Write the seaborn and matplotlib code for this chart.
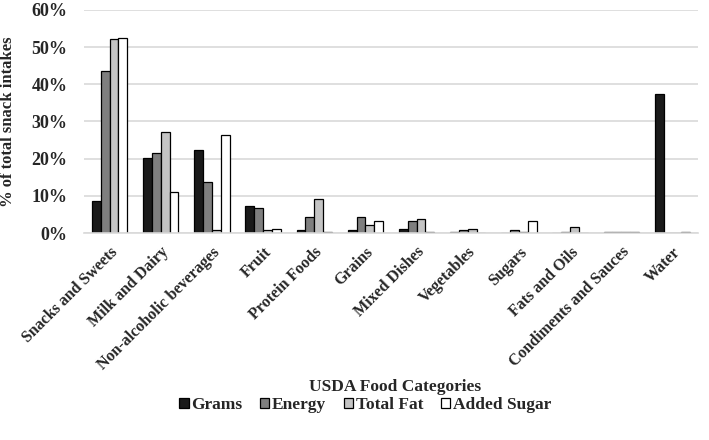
import numpy as np
import pandas as pd
import matplotlib
matplotlib.use('Agg')
import matplotlib.pyplot as plt
import seaborn as sns

categories = ['Snacks and Sweets', 'Milk and Dairy', 'Non-alcoholic beverages', 'Fruit',
              'Protein Foods', 'Grains', 'Mixed Dishes', 'Vegetables', 'Sugars',
              'Fats and Oils', 'Condiments and Sauces', 'Water']
grams = [8.5, 20.2, 22.3, 7.2, 0.8, 0.9, 1.2, 0.4, 0.1, 0.1, 0.2, 37.3]
energy = [43.5, 21.5, 13.6, 6.8, 4.2, 4.3, 3.1, 0.9, 0.7, 0.4, 0.2, 0.0]
total_fat = [52.3, 27.3, 0.8, 0.8, 9.2, 2.1, 3.9, 1.1, 0.2, 1.5, 0.2, 0.0]
added_sugar = [52.5, 11.0, 26.5, 1.2, 0.4, 3.2, 0.4, 0.1, 3.2, 0.1, 0.2, 0.2]
series = ['Grams', 'Energy', 'Total Fat', 'Added Sugar']
colors = ['#1a1a1a', '#7f7f7f', '#c4c4c4', '#ffffff']

df = pd.DataFrame({'Category': categories, 'Grams': grams, 'Energy': energy,
                   'Total Fat': total_fat, 'Added Sugar': added_sugar})
long = df.melt(id_vars='Category', var_name='Measure', value_name='Pct')

sns.set_style('white')
plt.rcParams['font.family'] = ['Liberation Serif', 'DejaVu Serif']
plt.rcParams['font.weight'] = 'bold'

fig = plt.figure(figsize=(7.09, 4.40), dpi=100)
ax = fig.add_axes([84 / 709, 1 - 233 / 440, 614 / 709, 223 / 440])

sns.barplot(data=long, x='Category', y='Pct', hue='Measure', hue_order=series,
            palette=colors, edgecolor='black', linewidth=0.9, width=0.69,
            gap=0, ax=ax, legend=True)

ax.set_ylim(0, 60)
ax.set_yticks(np.arange(0, 61, 10))
ax.set_yticklabels([f'{v}%' for v in range(0, 61, 10)], fontsize=13, fontweight='bold')
ax.yaxis.grid(True, color='#d9d9d9', linewidth=1.2)
ax.set_axisbelow(True)
for s in ['top', 'right', 'left']:
    ax.spines[s].set_visible(False)
ax.spines['bottom'].set_color('#d9d9d9')
ax.spines['bottom'].set_linewidth(1.2)
ax.tick_params(axis='y', length=0, pad=12)
ax.tick_params(axis='x', length=0, pad=8)
ax.set_xlim(-0.5, len(categories) - 0.5)

ax.set_xticks(range(len(categories)))
ax.set_xticklabels(categories, rotation=45, ha='right', rotation_mode='anchor',
                   fontsize=11.5, fontweight='bold')
ax.set_ylabel('% of total snack intakes', fontsize=12, fontweight='bold')
ax.yaxis.set_label_coords(-0.11, 0.5)
ax.set_xlabel('USDA Food Categories', fontsize=12.5, fontweight='bold')
ax.xaxis.set_label_coords(0.5065, -0.655)

ax.legend(loc='center', bbox_to_anchor=(0.458, -0.771), ncol=4, frameon=False,
          prop={'family': 'Liberation Serif', 'weight': 'bold', 'size': 12.5},
          handlelength=0.55, handleheight=0.55, handletextpad=0.15, columnspacing=1.0)

fig.savefig('out.png', dpi=100)
